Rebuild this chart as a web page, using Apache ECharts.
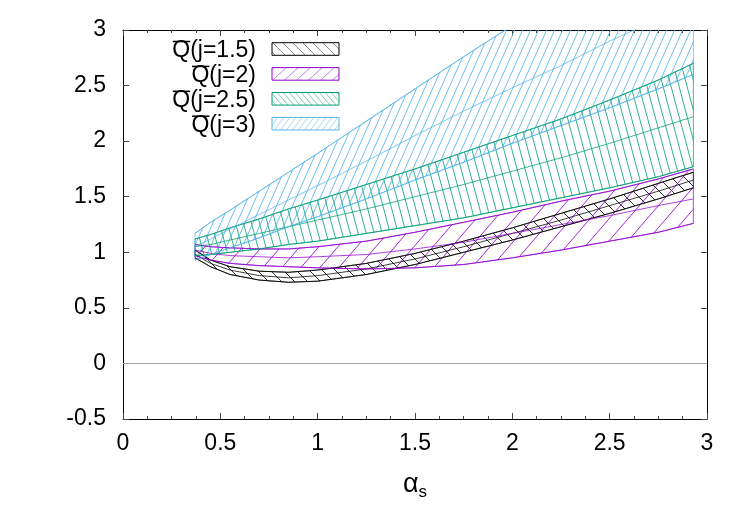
<!DOCTYPE html>
<html>
<head>
<meta charset="utf-8">
<script src="https://cdn.jsdelivr.net/npm/echarts@6/dist/echarts.min.js"></script>
<style>
  html, body { margin: 0; padding: 0; background: #fff; }
  #main { width: 750px; height: 525px; }
</style>
</head>
<body>
<div id="main"></div>
<script>
// alpha_s sample points
var alphaS = [0.37, 0.45, 0.55, 0.7, 0.85, 1.0, 1.25, 1.5, 1.75, 2.0, 2.25, 2.5, 2.75, 2.93];

// Qbar(j=1.5)
var q15Low  = [0.95, 0.87, 0.80, 0.75, 0.73, 0.74, 0.80, 0.89, 1.00, 1.11, 1.23, 1.35, 1.48, 1.58];
var q15Mid  = [0.98, 0.90, 0.84, 0.79, 0.77, 0.79, 0.85, 0.94, 1.05, 1.17, 1.29, 1.42, 1.55, 1.65];
var q15High = [1.02, 0.93, 0.87, 0.83, 0.82, 0.84, 0.90, 0.99, 1.10, 1.22, 1.35, 1.48, 1.62, 1.72];
// Qbar(j=2)
var q2Low  = [0.97, 0.93, 0.90, 0.88, 0.87, 0.86, 0.85, 0.86, 0.89, 0.95, 1.02, 1.10, 1.18, 1.26];
var q2Mid  = [1.02, 0.99, 0.97, 0.96, 0.95, 0.96, 0.98, 1.03, 1.09, 1.17, 1.25, 1.33, 1.42, 1.48];
var q2High = [1.07, 1.05, 1.04, 1.03, 1.03, 1.05, 1.10, 1.18, 1.27, 1.36, 1.46, 1.55, 1.66, 1.75];
// Qbar(j=2.5)
var q25Low  = [0.97, 0.98, 1.00, 1.03, 1.07, 1.10, 1.17, 1.24, 1.31, 1.40, 1.49, 1.58, 1.68, 1.77];
var q25Mid  = [1.05, 1.07, 1.11, 1.17, 1.23, 1.29, 1.39, 1.50, 1.61, 1.73, 1.85, 1.98, 2.12, 2.22];
var q25High = [1.12, 1.16, 1.22, 1.30, 1.39, 1.47, 1.61, 1.75, 1.90, 2.05, 2.20, 2.37, 2.55, 2.70];
// Qbar(j=3)
var q3Low  = [0.93, 0.98, 1.04, 1.13, 1.23, 1.32, 1.48, 1.65, 1.81, 1.98, 2.14, 2.30, 2.47, 2.60];
var q3Mid  = [1.05, 1.12, 1.21, 1.34, 1.47, 1.60, 1.82, 2.05, 2.27, 2.48, 2.68, 2.90, 3.10, 3.24];
var q3High = [1.17, 1.27, 1.38, 1.55, 1.72, 1.89, 2.18, 2.47, 2.76, 3.04, 3.30, 3.56, 3.80, 3.96];

var bandNames = ['j=1.5', 'j=2', 'j=2.5', 'j=3'];

var FONT = 'Liberation Sans, Arial, Helvetica, sans-serif';

// hatch tile: dir '/' or '\'
function hatch(color, w, h, dir, alpha) {
  var c = document.createElement('canvas');
  c.width = w; c.height = h;
  var g = c.getContext('2d');
  g.strokeStyle = color;
  g.globalAlpha = alpha;
  g.lineWidth = 1;
  for (var k = -1; k <= 1; k++) {
    g.beginPath();
    if (dir === '/') { g.moveTo(k * w, h); g.lineTo(k * w + w, 0); }
    else { g.moveTo(k * w, 0); g.lineTo(k * w + w, h); }
    g.stroke();
  }
  return { image: c, repeat: 'repeat' };
}

var bands = [
  { name: bandNames[0], low: q15Low, mid: q15Mid, high: q15High, color: '#000000',
    fill: hatch('#000000', 13, 13, '\\', 0.9), key: hatch('#000000', 10, 10, '\\', 0.45) },
  { name: bandNames[1], low: q2Low, mid: q2Mid, high: q2High, color: '#9400d3',
    fill: hatch('#9400d3', 19, 22, '/', 0.95), key: hatch('#9400d3', 12, 11, '/', 0.5) },
  { name: bandNames[2], low: q25Low, mid: q25Mid, high: q25High, color: '#009e73',
    fill: hatch('#009e73', 8, 30, '\\', 0.9), key: hatch('#009e73', 6, 7, '\\', 0.5) },
  { name: bandNames[3], low: q3Low, mid: q3Mid, high: q3High, color: '#56b4e9',
    fill: hatch('#56b4e9', 8, 18, '/', 0.95), key: hatch('#56b4e9', 6, 8, '/', 0.5) }
];

function pairs(arr) {
  return alphaS.map(function (x, i) { return [x, arr[i]]; });
}

var series = [];
bands.forEach(function (b) {
  series.push({
    type: 'custom',
    name: b.name,
    data: [[alphaS[0], b.low[0]]],
    silent: true,
    z: 2,
    renderItem: function (params, api) {
      var pts = [];
      for (var i = 0; i < alphaS.length; i++) pts.push(api.coord([alphaS[i], b.low[i]]));
      for (var j = alphaS.length - 1; j >= 0; j--) pts.push(api.coord([alphaS[j], b.high[j]]));
      var cs = params.coordSys;
      return {
        type: 'polygon',
        shape: { points: pts },
        style: { fill: b.fill, stroke: b.color, lineWidth: 0.8, opacity: 0.9 },
        clipPath: { type: 'rect', shape: { x: cs.x, y: cs.y, width: cs.width, height: cs.height } }
      };
    }
  });
  [b.low, b.mid, b.high].forEach(function (arr) {
    series.push({
      type: 'line',
      data: pairs(arr),
      showSymbol: false,
      silent: true,
      z: 3,
      lineStyle: { color: b.color, width: 1, opacity: 0.75 }
    });
  });
});

// zero axis line
series.push({
  type: 'line',
  data: [],
  silent: true,
  markLine: {
    silent: true,
    symbol: ['none', 'none'],
    label: { show: false },
    lineStyle: { color: '#a0a0a0', type: 'solid', width: 1 },
    data: [{ yAxis: 0 }]
  }
});

// legend built with graphics
var mc = document.createElement('canvas').getContext('2d');
mc.font = '23px ' + FONT;
var graphics = [];
bands.forEach(function (b, i) {
  var cy = 49 + 24.9 * i;
  var txt = 'Q(' + b.name + ')';
  var w = mc.measureText(txt).width;
  var qw = mc.measureText('Q').width;
  var right = 256;
  graphics.push({
    type: 'text', x: right, y: cy + 2,
    style: { text: txt, font: '23px ' + FONT, fill: '#000', align: 'right', verticalAlign: 'middle' }
  });
  graphics.push({
    type: 'line',
    shape: { x1: right - w + 0.5, y1: cy - 7.5, x2: right - w + qw, y2: cy - 7.5 },
    style: { stroke: '#000', lineWidth: 1.5 }
  });
  graphics.push({
    type: 'rect',
    shape: { x: 272, y: cy - 6.3, width: 67, height: 12.6 },
    style: { fill: b.key, stroke: b.color, lineWidth: 1 }
  });
});

var axisLine = { show: true, onZero: false, lineStyle: { color: '#000', width: 1 } };
var tick = { show: true, inside: true, length: 6, lineStyle: { color: '#444' } };

var option = {
  animation: false,
  backgroundColor: '#fff',
  grid: { left: 123, right: 43, top: 30, bottom: 106 },
  xAxis: [{
    type: 'value', min: 0, max: 3, interval: 0.5,
    axisLine: axisLine, axisTick: tick,
    minorTick: { show: true, splitNumber: 4, length: 3, lineStyle: { color: '#444' } },
    splitLine: { show: false },
    axisLabel: { fontSize: 23, color: '#000', fontFamily: FONT, margin: 13 },
    name: '{a|α}{s|s}',
    nameLocation: 'middle',
    nameGap: 50,
    nameTextStyle: {
      rich: {
        a: { fontSize: 27, fontFamily: FONT, color: '#000', lineHeight: 32, verticalAlign: 'middle' },
        s: { fontSize: 17, fontFamily: FONT, color: '#000', verticalAlign: 'bottom' }
      }
    }
  }, {
    type: 'value', position: 'top', min: 0, max: 3, interval: 0.5,
    axisLine: axisLine, axisTick: tick,
    minorTick: { show: true, splitNumber: 4, length: 3, lineStyle: { color: '#444' } },
    splitLine: { show: false }, axisLabel: { show: false }
  }],
  yAxis: [{
    type: 'value', min: -0.5, max: 3, interval: 0.5,
    axisLine: axisLine, axisTick: tick,
    splitLine: { show: false },
    axisLabel: { fontSize: 23, color: '#000', fontFamily: FONT, margin: 17 }
  }, {
    type: 'value', position: 'right', min: -0.5, max: 3, interval: 0.5,
    axisLine: axisLine, axisTick: tick,
    splitLine: { show: false }, axisLabel: { show: false }
  }],
  graphic: graphics,
  series: series
};

var myChart = echarts.init(document.getElementById('main'));
myChart.setOption(option);
</script>
</body>
</html>
